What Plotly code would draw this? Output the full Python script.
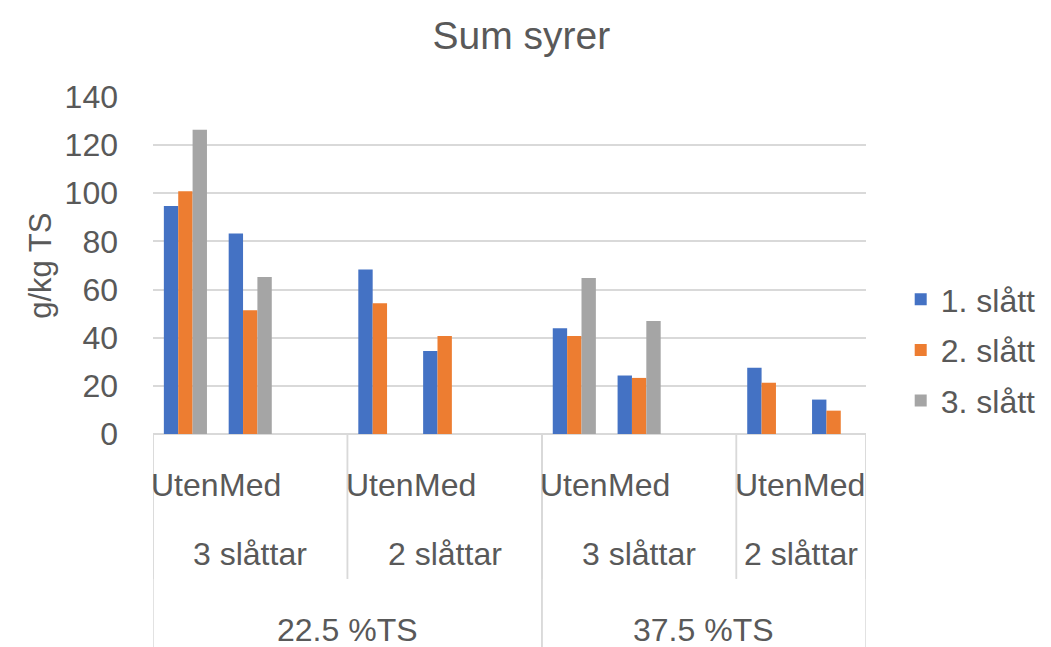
import plotly.graph_objects as go

# ---- data ----
ts_level = ["22.5 %TS", "22.5 %TS", "22.5 %TS", "22.5 %TS",
            "37.5 %TS", "37.5 %TS", "37.5 %TS", "37.5 %TS"]
cut_level = ["3 slåttar", "3 slåttar", "2 slåttar", "2 slåttar",
             "3 slåttar", "3 slåttar", "2 slåttar", "2 slåttar"]
treat_level = ["Uten", "Med", "Uten", "Med", "Uten", "Med", "Uten", "Med"]

series_names = ["1. slått", "2. slått", "3. slått"]
slatt1 = [94.7, 83.3, 68.3, 34.5, 43.9, 24.3, 27.5, 14.3]
slatt2 = [100.8, 51.4, 54.3, 40.7, 40.7, 23.3, 21.3, 9.7]
slatt3 = [126.4, 65.2, None, None, 64.8, 46.9, None, None]

y_ticks = [0, 20, 40, 60, 80, 100, 120, 140]

colors = ["#4472C4", "#ED7D31", "#A5A5A5"]
TXT = "#595959"
GRID = "#D9D9D9"
FONT = "Liberation Sans, Arial, sans-serif"

# ---- slot layout: a blank slot follows each level-2 group except the last ----
slots = []
pos = 0
for i in range(len(treat_level)):
    if i > 0 and (cut_level[i] != cut_level[i - 1] or ts_level[i] != ts_level[i - 1]):
        pos += 1  # blank slot
    slots.append(pos)
    pos += 1
n_slots = slots[-1] + 1

fig = go.Figure()
for k, (name, vals, col) in enumerate(zip(series_names, [slatt1, slatt2, slatt3], colors)):
    fig.add_trace(go.Bar(x=slots, y=vals, name=name, marker_color=col,
                         marker_line_width=0, legendgroup="g%d" % k))

# group spans
def spans(level_keys):
    out = []
    start = 0
    for i in range(1, len(level_keys) + 1):
        if i == len(level_keys) or level_keys[i] != level_keys[start]:
            out.append((start, i - 1))
            start = i
    return out

ann = []
shapes = []
ROW1, ROW2, ROW3 = -0.151, -0.355, -0.583
L2_BOTTOM, L3_BOTTOM = -0.43, -0.64

for i, t in enumerate(treat_level):
    ann.append(dict(x=slots[i], y=ROW1, xref="x", yref="paper", text=t,
                    showarrow=False, font=dict(size=32, color=TXT, family=FONT),
                    xanchor="center", yanchor="middle"))

def group_bounds(s, e, last):
    left = slots[s] - 0.5
    right = (slots[e] + 1.5) if not last else (slots[e] + 0.5)
    return left, right

keys2 = [a + "|" + b for a, b in zip(ts_level, cut_level)]
sp2 = spans(keys2)
for k, (s, e) in enumerate(sp2):
    left, right = group_bounds(s, e, k == len(sp2) - 1)
    ann.append(dict(x=(left + right) / 2, y=ROW2, xref="x", yref="paper",
                    text=cut_level[s], showarrow=False, xanchor="center",
                    font=dict(size=32, color=TXT, family=FONT), yanchor="middle"))
    for xx in (left, right):
        shapes.append(dict(type="line", xref="x", yref="paper", x0=xx, x1=xx,
                           y0=0, y1=L2_BOTTOM, line=dict(color=GRID, width=1.5)))

sp3 = spans(ts_level)
for k, (s, e) in enumerate(sp3):
    left, right = group_bounds(s, e, k == len(sp3) - 1)
    ann.append(dict(x=(left + right) / 2, y=ROW3, xref="x", yref="paper",
                    text=ts_level[s], showarrow=False, xanchor="center",
                    font=dict(size=32, color=TXT, family=FONT), yanchor="middle"))
    for xx in (left, right):
        shapes.append(dict(type="line", xref="x", yref="paper", x0=xx, x1=xx,
                           y0=0, y1=L3_BOTTOM, line=dict(color=GRID, width=1.5)))

# y-axis title
ann.append(dict(x=-0.158, y=0.5, xref="paper", yref="paper", text="g/kg TS",
                textangle=-90, showarrow=False, xanchor="center", yanchor="middle",
                font=dict(size=31, color=TXT, family=FONT)))

fig.update_layout(
    width=1051, height=647,
    margin=dict(l=153, r=185, t=97, b=213),
    paper_bgcolor="white", plot_bgcolor="white",
    barmode="group", bargap=0.335, bargroupgap=0,
    title=dict(text="Sum syrer", x=0.496, xref="container", y=0.946,
               yref="container", yanchor="middle", xanchor="center",
               font=dict(size=39, color=TXT, family=FONT)),
    font=dict(family=FONT, color=TXT),
    xaxis=dict(range=[-0.5, n_slots - 0.5], showticklabels=False, showgrid=False,
               zeroline=False, showline=False, fixedrange=True),
    yaxis=dict(range=[0, 140], tickvals=y_ticks, showgrid=True, gridcolor=GRID,
               gridwidth=1.5, zeroline=True, zerolinecolor=GRID, zerolinewidth=1.5,
               showline=False, ticks="", ticklabelstandoff=34,
               tickfont=dict(size=32, color=TXT, family=FONT)),
    legend=dict(x=0.857, xref="container", xanchor="left",
                y=(647 - 350) / 647, yref="container", yanchor="middle",
                font=dict(size=32, color=TXT, family=FONT),
                tracegroupgap=6, bgcolor="rgba(0,0,0,0)"),
    annotations=ann, shapes=shapes,
)

fig.write_html(
    "out.html",
    config={"displayModeBar": False},
    post_script="document.body.style.margin='0';document.body.style.overflow='hidden';",
)
